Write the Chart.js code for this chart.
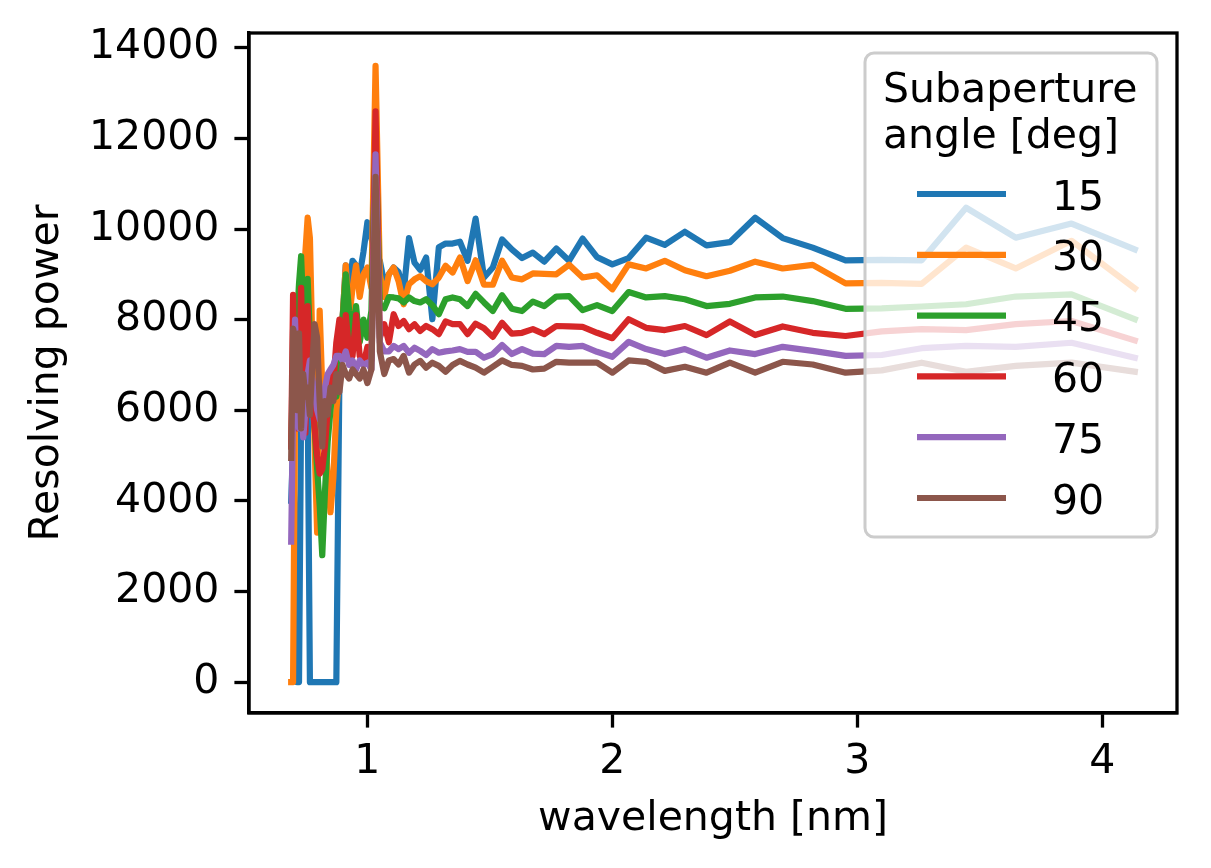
<!DOCTYPE html>
<html>
<head>
<meta charset="utf-8">
<title>Resolving power</title>
<script src="https://cdn.jsdelivr.net/npm/chart.js@4.4.1/dist/chart.umd.min.js"></script>
<style>
  html, body { margin: 0; padding: 0; background: #ffffff; }
  #chart { display: block; }
</style>
</head>
<body>
<canvas id="chart" width="1211" height="868"></canvas>
<script>
// wavelength [nm] of each sample (20 eV steps from 1800 eV down to 300 eV)
var wavelength = [
  0.6888, 0.6965, 0.7045, 0.7126, 0.7208, 0.7293, 0.7380, 0.7469, 0.7560, 0.7653,
  0.7749, 0.7847, 0.7948, 0.8051, 0.8157, 0.8266, 0.8377, 0.8492, 0.8610, 0.8731,
  0.8856, 0.8984, 0.9117, 0.9253, 0.9393, 0.9537, 0.9686, 0.9840, 0.9999, 1.0163,
  1.0332, 1.0507, 1.0688, 1.0876, 1.1070, 1.1271, 1.1480, 1.1697, 1.1922, 1.2155,
  1.2398, 1.2651, 1.2915, 1.3190, 1.3477, 1.3776, 1.4089, 1.4417, 1.4760, 1.5120,
  1.5498, 1.5895, 1.6314, 1.6755, 1.7220, 1.7712, 1.8233, 1.8785, 1.9373, 1.9998,
  2.0664, 2.1377, 2.2140, 2.2960, 2.3843, 2.4797, 2.5830, 2.6953, 2.8178, 2.9520,
  3.0996, 3.2627, 3.4440, 3.6466, 3.8745, 4.1328
];

var rp15 = [
  4000, 5200, 3000, 0, 0, 6000, 6400, 5900, 6300, 0,
  0, 0, 0, 0, 0, 0, 0, 0, 0, 0,
  6700, 8000, 9200, 8700, 9300, 9200, 9000, 9500, 10150, 9800,
  9400, 9300, 8800, 9000, 9150, 9050, 8600, 9800, 9260, 9100,
  9370, 8010, 9600, 9680, 9680, 9720, 9300, 10230, 8930, 9150,
  9770, 9550, 9360, 9480, 9280, 9570, 9300, 9790, 9380, 9220,
  9360, 9810, 9650, 9940, 9640, 9710, 10250, 9800, 9590, 9310,
  9320, 9310, 10470, 9810, 10120, 9550
];
var rp30 = [
  0, 0, 6000, 6800, 6300, 7000, 8200, 9500, 10250, 9800,
  7500, 5200, 3300, 8200, 6500, 5500, 4600, 3750, 4500, 6000,
  6800, 8000, 9200, 8000, 8700, 9200, 8500, 9000, 9150, 8700,
  13600, 9000, 8500, 9000, 9150, 8850, 8340, 8780, 8890, 8960,
  8850, 8780, 8930, 9190, 9040, 9370, 8850, 9310, 8770, 8770,
  9300, 8930, 8890, 9020, 9010, 9000, 9210, 8930, 8980, 8670,
  9220, 9130, 9300, 9090, 8960, 9080, 9280, 9130, 9210, 8800,
  8810, 8790, 9590, 9130, 9740, 8690
];
var rp45 = [
  5200, 6800, 7500, 8000, 8800, 9400, 8200, 7000, 8900, 7600,
  6500, 5600, 4700, 3900, 2800, 4200, 5300, 6000, 6600, 6300,
  7000, 8000, 9000, 8200, 7600, 8300, 7500, 8000, 7600, 8200,
  12000, 8300, 8250, 8500, 8490, 8470, 8380, 8490, 8410, 8380,
  8450, 8320, 8120, 8450, 8490, 8450, 8300, 8570, 8380, 8190,
  8540, 8240, 8190, 8400, 8300, 8510, 8520, 8210, 8320, 8190,
  8610, 8490, 8520, 8450, 8300, 8350, 8490, 8510, 8410, 8240,
  8250, 8290, 8340, 8510, 8560, 8010
];
var rp60 = [
  5200, 8550, 6000, 5600, 6500, 8700, 6800, 5500, 8300, 7000,
  6200, 5600, 5000, 4600, 4700, 5200, 6000, 6800, 6600, 7500,
  8000, 7200, 8100, 7300, 7200, 8100, 7200, 7000, 7400, 7100,
  12600, 7600, 7900, 7500, 8120, 7860, 7970, 7790, 7900, 7750,
  7860, 7790, 7680, 7960, 7900, 7900, 7680, 7910, 7810, 7620,
  7930, 7690, 7710, 7790, 7680, 7860, 7850, 7840, 7710, 7590,
  8010, 7820, 7770, 7860, 7660, 7960, 7660, 7850, 7710, 7640,
  7740, 7790, 7770, 7900, 7970, 7540
];
var rp75 = [
  3100, 6000, 8000, 6500, 5600, 6300, 5400, 6000, 6800, 7100,
  6700, 6400, 6000, 5800, 6100, 6500, 6800, 6900, 7000, 7200,
  7200, 7100, 7300, 7000, 7100, 6900, 7100, 7000, 7050, 6900,
  11650, 7500, 7300, 7300, 7420, 7350, 7420, 7270, 7380, 7310,
  7220, 7350, 7270, 7300, 7320, 7350, 7290, 7290, 7160, 7240,
  7440, 7240, 7350, 7250, 7240, 7420, 7400, 7420, 7290, 7180,
  7510, 7350, 7240, 7350, 7160, 7320, 7240, 7400, 7310, 7200,
  7220, 7370, 7420, 7400, 7490, 7160
];
var rp90 = [
  4950, 7800, 7600, 6000, 7700, 5600, 6800, 6300, 6500, 5900,
  7000, 7900, 7600, 6200, 5200, 6200, 5900, 6500, 6200, 6800,
  6400, 7000, 6800, 6700, 6900, 6800, 6700, 6900, 6600, 6900,
  11150, 7300, 6800, 7100, 7130, 7010, 7200, 6830, 7010, 7090,
  6940, 7050, 6980, 6850, 7000, 7090, 7010, 6940, 6830, 6960,
  7100, 7000, 6980, 6900, 6920, 7070, 7050, 7050, 7050, 6830,
  7100, 7070, 6870, 6960, 6830, 7050, 6830, 7070, 7010, 6830,
  6880, 7050, 6850, 6980, 7050, 6850
];

var seriesLabels = ["15", "30", "45", "60", "75", "90"];
var legendTitle = ["Subaperture", "angle [deg]"];
var xTicks = [1, 2, 3, 4];
var yTicks = [0, 2000, 4000, 6000, 8000, 10000, 12000, 14000];

var seriesValues = [rp15, rp30, rp45, rp60, rp75, rp90];
var colors = ["#1f77b4", "#ff7f0e", "#2ca02c", "#d62728", "#9467bd", "#8c564b"];
var FONT = "'DejaVu Sans', 'Liberation Sans', sans-serif";

Chart.defaults.font.family = FONT;
Chart.defaults.font.size = 41;
Chart.defaults.color = "#000000";

var datasets = seriesValues.map(function(vals, i) {
  return {
    label: seriesLabels[i],
    data: vals.map(function(v, j) { return { x: wavelength[j], y: v }; }),
    borderColor: colors[i],
    backgroundColor: colors[i],
    borderWidth: 6.2,
    borderJoinStyle: "round",
    borderCapStyle: "square",
    pointRadius: 0,
    tension: 0,
    fill: false,
    // matplotlib draws the last series on top
    order: seriesValues.length - i
  };
});

// top and right spines
var frame = {
  id: "frame",
  afterDatasetsDraw: function(chart) {
    var a = chart.chartArea, ctx = chart.ctx;
    ctx.save();
    ctx.strokeStyle = "#000000";
    ctx.lineWidth = 3.3;
    ctx.strokeRect(a.left, a.top, a.right - a.left, a.bottom - a.top);
    ctx.restore();
  }
};

// legend box inside the axes, like matplotlib's
var legendBox = {
  id: "legendBox",
  afterDraw: function(chart) {
    var ctx = chart.ctx;
    var x0 = 865, y0 = 53, w = 292, h = 484, r = 9;
    ctx.save();
    ctx.beginPath();
    ctx.moveTo(x0 + r, y0);
    ctx.arcTo(x0 + w, y0, x0 + w, y0 + h, r);
    ctx.arcTo(x0 + w, y0 + h, x0, y0 + h, r);
    ctx.arcTo(x0, y0 + h, x0, y0, r);
    ctx.arcTo(x0, y0, x0 + w, y0, r);
    ctx.closePath();
    ctx.fillStyle = "rgba(255,255,255,0.8)";
    ctx.fill();
    ctx.strokeStyle = "#cccccc";
    ctx.lineWidth = 3;
    ctx.stroke();

    ctx.fillStyle = "#000000";
    ctx.font = "41px " + FONT;
    ctx.textAlign = "left";
    ctx.textBaseline = "alphabetic";
    ctx.fillText(legendTitle[0], 883, 102);
    ctx.fillText(legendTitle[1], 883, 148);

    seriesLabels.forEach(function(lab, i) {
      var y = 194 + i * 60.8;
      ctx.strokeStyle = colors[i];
      ctx.lineWidth = 6.2;
      ctx.lineCap = "butt";
      ctx.beginPath();
      ctx.moveTo(917, y);
      ctx.lineTo(1006, y);
      ctx.stroke();
      ctx.fillText(lab, 1052, y + 15.5);
    });
    ctx.restore();
  }
};

var ctx = document.getElementById("chart").getContext("2d");

window.rpChart = new Chart(ctx, {
  type: "line",
  data: { datasets: datasets },
  options: {
    responsive: false,
    animation: false,
    devicePixelRatio: 1,
    layout: { padding: { left: 0, top: 33, right: 34, bottom: 0 } },
    plugins: {
      legend: { display: false },
      tooltip: { enabled: false }
    },
    scales: {
      x: {
        type: "linear",
        min: 0.5166,
        max: 4.305,
        afterBuildTicks: function(scale) {
          scale.ticks = xTicks.map(function(v) { return { value: v }; });
        },
        afterFit: function(scale) {
          scale.height = 155;
          scale.paddingLeft = 0;
          scale.paddingRight = 0;
        },
        ticks: {
          color: "#000000",
          padding: 10,
          maxRotation: 0,
          autoSkip: false,
          callback: function(value) { return String(value); }
        },
        grid: {
          drawOnChartArea: false,
          drawTicks: true,
          tickLength: 14.6,
          tickWidth: 3.3,
          tickColor: "#000000"
        },
        border: { display: true, color: "#000000", width: 3.3 },
        title: {
          display: true,
          text: "wavelength [nm]",
          color: "#000000",
          padding: { top: 0, bottom: 24 }
        }
      },
      y: {
        type: "linear",
        min: -682,
        max: 14327,
        afterBuildTicks: function(scale) {
          scale.ticks = yTicks.map(function(v) { return { value: v }; });
        },
        afterFit: function(scale) {
          scale.width = 249;
          scale.paddingTop = 0;
          scale.paddingBottom = 0;
        },
        ticks: {
          color: "#000000",
          padding: 15,
          autoSkip: false,
          callback: function(value) { return String(value); }
        },
        grid: {
          drawOnChartArea: false,
          drawTicks: true,
          tickLength: 14.6,
          tickWidth: 3.3,
          tickColor: "#000000"
        },
        border: { display: true, color: "#000000", width: 3.3 },
        title: {
          display: true,
          text: "Resolving power",
          color: "#000000",
          padding: { top: 23, bottom: 0 }
        }
      }
    }
  },
  plugins: [frame, legendBox]
});
</script>
</body>
</html>
